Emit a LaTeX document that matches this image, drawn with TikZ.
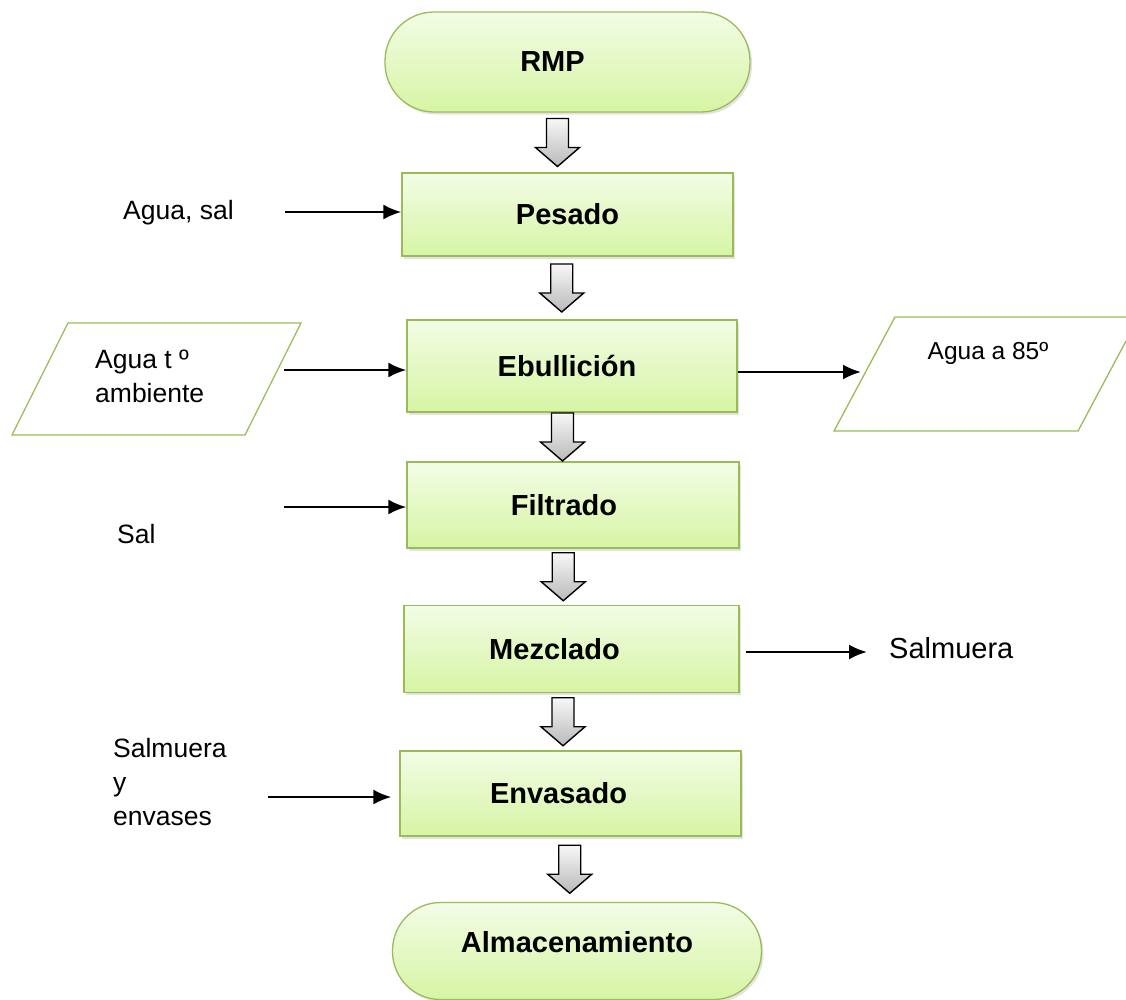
\documentclass[tikz,border=0pt]{standalone}
\usepackage{fontspec}
\setmainfont{Liberation Sans}
\usetikzlibrary{arrows.meta,shadows,calc}
\definecolor{boxgreen}{HTML}{9BBB59}
\definecolor{filltop}{HTML}{F3FCE6}
\definecolor{fillbot}{HTML}{D6F5A4}
\begin{document}
\begin{tikzpicture}[x=1pt,y=-1pt,
  box/.style={draw=boxgreen, line width=1.3pt, top color=filltop, bottom color=fillbot,
    font=\bfseries\fontsize{29}{34}\selectfont, inner sep=0pt,
    drop shadow={shadow xshift=2pt,shadow yshift=-2.5pt,opacity=0.22}},
  boldtext/.style={font=\bfseries\fontsize{29}{34}\selectfont, inner sep=0pt},
  lbl/.style={font=\fontsize{26.5}{34}\selectfont, inner sep=0pt, align=left},
  flow/.style={line width=2.3pt, -{Latex[length=18pt,width=15pt]}},
  para/.style={draw=boxgreen, line width=1.3pt, line join=miter},
  blk/.pic={\draw[black, line width=1.4pt, line join=miter, top color=gray!6, bottom color=gray!55]
    (-11,-24) -- (11,-24) -- (11,5) -- (22,5) -- (0,24) -- (-22,5) -- (-11,5) -- cycle;}
]
\useasboundingbox (0,0) rectangle (1126,999);

% process boxes
\node[box, minimum width=365pt, minimum height=100pt, rounded corners=49pt] (rmp) at (567.5,62) {RMP\hspace*{30pt}};
\node[box, minimum width=331pt, minimum height=83pt] (pes) at (567.5,214.5) {Pesado};
\node[box, minimum width=330pt, minimum height=92pt] (ebu) at (572,366) {Ebullición\hspace*{10pt}};
\node[box, minimum width=332pt, minimum height=86pt] (fil) at (573,505) {Filtrado\hspace*{18pt}};
\node[box, minimum width=335pt, minimum height=87pt] (mez) at (571.5,649) {Mezclado\hspace*{34pt}};
\node[box, minimum width=341pt, minimum height=85pt] (env) at (570.5,793.5) {Envasado\hspace*{24pt}};
\node[box, minimum width=369pt, minimum height=97pt, rounded corners=48pt] (alm) at (577,951) {};
\node[boldtext] (almt) at (577,942) {Almacenamiento};

% block arrows between steps
\pic[xshift=-10pt] at ($(rmp.south)!0.5!(pes.north)$) {blk};
\pic[xshift=-8pt] at ($(pes.south)!0.5!(ebu.north)$) {blk};
\pic[xshift=-10pt] at ($(ebu.south)!0.5!(fil.north)$) {blk};
\pic[xshift=-9pt] at ($(fil.south)!0.5!(mez.north)$) {blk};
\pic[xshift=-8pt] at ($(mez.south)!0.5!(env.north)$) {blk};
\pic[xshift=-4pt] at ($(env.south)!0.5!(alm.north)$) {blk};

% parallelograms
\draw[para] (68,323) -- (301,323) -- (245,435) -- (12,435) -- cycle;
\draw[para] (1126,317) -- (895,317) -- (834,431) -- (1078,431) -- (1126,341);

% labels
\node[lbl, anchor=west] (t1) at (123,213) {Agua, sal};
\node[lbl, anchor=west] (t2) at (95,376) {Agua t º\\ambiente};
\node[lbl, font=\fontsize{24.5}{30}\selectfont] (t3) at (988,353) {Agua a 85º};
\node[lbl, anchor=west] (t4) at (117,534) {Sal};
\node[lbl, anchor=west, font=\fontsize{29}{34}\selectfont] (t5) at (889,648) {Salmuera};
\node[lbl, anchor=west] (t6) at (113,782) {Salmuera\\y\\envases};

% connectors
\coordinate (a1) at (285,212);
\draw[flow] (a1) -- (pes.west |- a1);
\coordinate (a2) at (284,370);
\draw[flow] (a2) -- (ebu.west |- a2);
\coordinate (a3) at (861,372);
\draw[flow] (ebu.east |- a3) -- (a3);
\coordinate (a4) at (284,507);
\draw[flow] (a4) -- (fil.west |- a4);
\coordinate (a5) at (867,652);
\draw[flow, shorten <=6pt] (mez.east |- a5) -- (a5);
\coordinate (a6) at (268,797);
\draw[flow, shorten >=8pt] (a6) -- (env.west |- a6);
\end{tikzpicture}
\end{document}
